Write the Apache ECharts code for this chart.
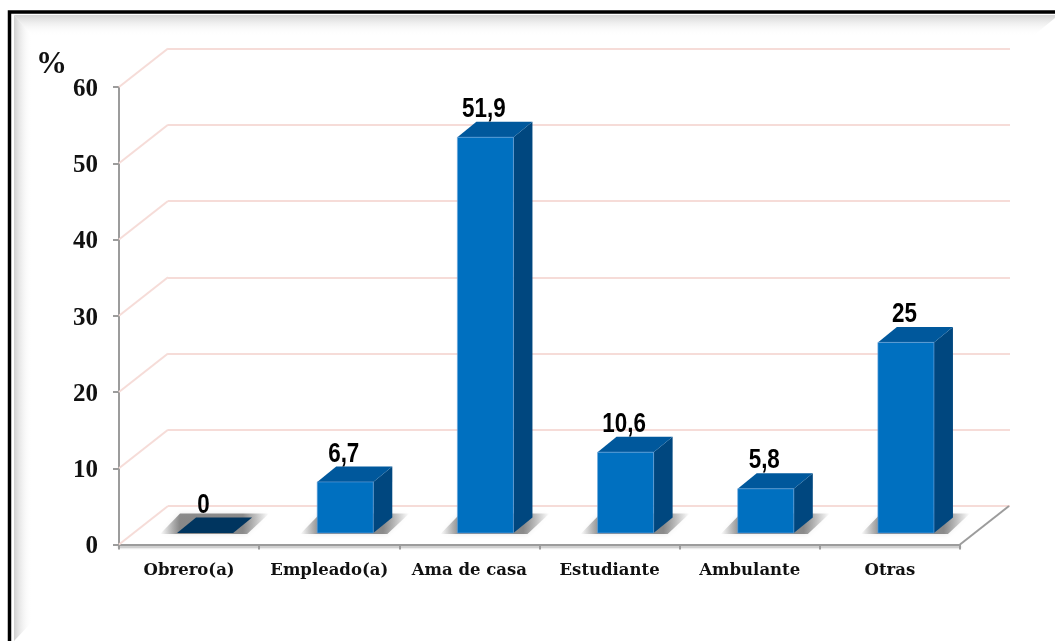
<!DOCTYPE html>
<html>
<head>
<meta charset="utf-8">
<style>
html, body { margin: 0; background: #fff; }
#chart { width: 1055px; height: 641px; }
</style>
<script src="https://cdn.jsdelivr.net/npm/echarts@6/dist/echarts.min.js"></script>
</head>
<body>
<div id="chart"></div>
<script>
const categories = ['Obrero(a)', 'Empleado(a)', 'Ama de casa', 'Estudiante', 'Ambulante', 'Otras'];
const percentages = [0, 6.7, 51.9, 10.6, 5.8, 25];
const yTicks = [0, 10, 20, 30, 40, 50, 60];

const serifFont = '"Liberation Serif", serif';
const catFont = '"DejaVu Serif", serif';
const narrowFont = '"Liberation Sans", sans-serif';
const gridPink = '#f6dcd8';
const axisGray = '#9c9c9c';

// profundidad del "3D": pared de fondo y barras
const wallDx = 49, wallDy = -38.5;
const barDx = 19, barDy = -15.5;
const barInX = 16, barInY = -11.5;

let myChart = echarts.init(document.getElementById('chart'));

function fade(x0, y0, x1, y1, from) {
    return new echarts.graphic.LinearGradient(x0, y0, x1, y1, [
        { offset: 0, color: from },
        { offset: 1, color: 'rgba(255,255,255,0)' }
    ]);
}

function renderDiagonal(params, api) {
    let p = api.coord([api.value(0), api.value(1)]);
    // la linea del piso derecha sale del final del eje
    let x = api.value(0) === categories.length - 1 ? p[0] + api.size([1, 0])[0] / 2 : p[0] - api.size([1, 0])[0] / 2;
    return {
        type: 'line',
        shape: { x1: x, y1: p[1], x2: x + wallDx, y2: p[1] + wallDy },
        style: { stroke: api.value(2) ? axisGray : gridPink, lineWidth: 2 }
    };
}

function renderBar(params, api) {
    let v = api.value(1);
    let base = api.coord([api.value(0), 0]);
    let top = api.coord([api.value(0), v]);
    let w = api.size([1, 0])[0] * 0.4;
    let x0 = base[0] - w / 2 + barInX, x1 = x0 + w;
    let y0 = base[1] + barInY, yt = top[1] + barInY;
    let children = [
        // sombra en el piso
        {
            type: 'polygon',
            shape: { points: [[x0 - 17, y0 + 1], [x0 + 3, y0 + barDy - 4], [x1 + 36, y0 + barDy - 4], [x1 + 14, y0 + 1]] },
            style: {
                fill: new echarts.graphic.LinearGradient(0, 0, 1, 0, [
                    { offset: 0, color: 'rgba(100,100,100,0)' },
                    { offset: 0.18, color: 'rgba(100,100,100,.72)' },
                    { offset: 0.76, color: 'rgba(100,100,100,.72)' },
                    { offset: 1, color: 'rgba(100,100,100,0)' }
                ]),
                shadowBlur: 5, shadowColor: 'rgba(190,190,190,.5)'
            }
        }
    ];
    if (v === 0) {
        children.push({
            type: 'polygon',
            shape: { points: [[x0, y0], [x1, y0], [x1 + barDx, y0 + barDy], [x0 + barDx, y0 + barDy]] },
            style: { fill: '#00355f' }
        });
    } else {
        children.push(
            {
                type: 'polygon',
                shape: { points: [[x1, y0], [x1 + barDx, y0 + barDy], [x1 + barDx, yt + barDy], [x1, yt]] },
                style: { fill: '#00477f' }
            },
            {
                type: 'polygon',
                shape: { points: [[x0, yt], [x1, yt], [x1 + barDx, yt + barDy], [x0 + barDx, yt + barDy]] },
                style: { fill: '#00589c' }
            },
            {
                type: 'rect',
                shape: { x: x0, y: yt, width: w, height: y0 - yt },
                style: { fill: '#0070c0', stroke: 'rgba(110,165,220,.6)', lineWidth: 1 }
            }
        );
    }
    children.push({
        type: 'text',
        x: (x0 + x1) / 2 - 1.5,
        y: yt + barDy + 1.5,
        scaleX: 0.8,
        style: {
            text: String(v).replace('.', ','),
            font: 'bold 28px ' + narrowFont,
            fill: '#000',
            align: 'center',
            verticalAlign: 'bottom'
        }
    });
    return { type: 'group', children: children };
}

myChart.setOption({
    animation: false,
    backgroundColor: '#fff',
    title: {
        text: '%',
        left: 31,
        top: 44,
        textStyle: { fontFamily: serifFont, fontWeight: 'bold', fontSize: 31, color: '#111' }
    },
    grid: [
        { left: 119, top: 87, width: 841, height: 457.5 },
        { left: 168, top: 48.5, width: 842, height: 457.5 }
    ],
    xAxis: [
        {
            type: 'category',
            gridIndex: 0,
            data: categories,
            axisLine: { lineStyle: { color: axisGray, width: 2, shadowColor: 'rgba(120,120,120,.5)', shadowBlur: 2, shadowOffsetY: 2 } },
            axisTick: { show: true, length: 5, lineStyle: { color: axisGray, width: 2 } },
            axisLabel: {
                color: '#111', fontFamily: catFont, fontWeight: 'bold', fontSize: 16.5,
                margin: 18, interval: 0
            }
        },
        { type: 'category', gridIndex: 1, data: categories, show: false }
    ],
    yAxis: [
        {
            type: 'value',
            gridIndex: 0,
            min: 0,
            max: 60,
            interval: 10,
            axisLine: { show: true, lineStyle: { color: axisGray, width: 2 } },
            axisTick: { show: true, length: 6, lineStyle: { color: axisGray, width: 2 } },
            splitLine: { show: false },
            axisLabel: {
                margin: 21,
                formatter: v => '{t|' + v + '}',
                rich: {
                    t: {
                        color: '#111', fontFamily: serifFont, fontWeight: 'bold', fontSize: 25,
                        padding: [5, 0, 0, 0]
                    }
                }
            }
        },
        {
            type: 'value',
            gridIndex: 1,
            min: 0,
            max: 60,
            interval: 10,
            axisLine: { show: false },
            axisTick: { show: false },
            axisLabel: { show: false },
            splitLine: { show: true, lineStyle: { color: gridPink, width: 2 } }
        }
    ],
    series: [
        {
            name: 'diagonales',
            type: 'custom',
            xAxisIndex: 0,
            yAxisIndex: 0,
            z: 1,
            silent: true,
            renderItem: renderDiagonal,
            data: yTicks.map(t => [0, t, 0]).concat([[categories.length - 1, 0, 1]])
        },
        {
            name: '%',
            type: 'custom',
            xAxisIndex: 0,
            yAxisIndex: 0,
            z: 3,
            renderItem: renderBar,
            data: percentages.map((v, i) => [i, v])
        }
    ],
    graphic: [
        // marco: biseles grises y linea negra (cortado a la derecha y abajo)
        {
            type: 'polygon', z: -1, silent: true,
            shape: { points: [[14, 15], [1055, 15], [1055, 18], [1033, 36], [32, 36]] },
            style: { fill: fade(0, 0, 0, 1, '#d4d4d4') }
        },
        {
            type: 'polygon', z: -1, silent: true,
            shape: { points: [[14, 15], [32, 36], [32, 622], [14, 641]] },
            style: { fill: fade(0, 0, 1, 0, '#cfcfcf') }
        },
        {
            type: 'polyline', z: 5, silent: true,
            shape: { points: [[9.5, 641], [9.5, 12], [1055, 12]] },
            style: { stroke: '#000', lineWidth: 3.5, fill: 'none' }
        }
    ]
});
</script>
</body>
</html>
